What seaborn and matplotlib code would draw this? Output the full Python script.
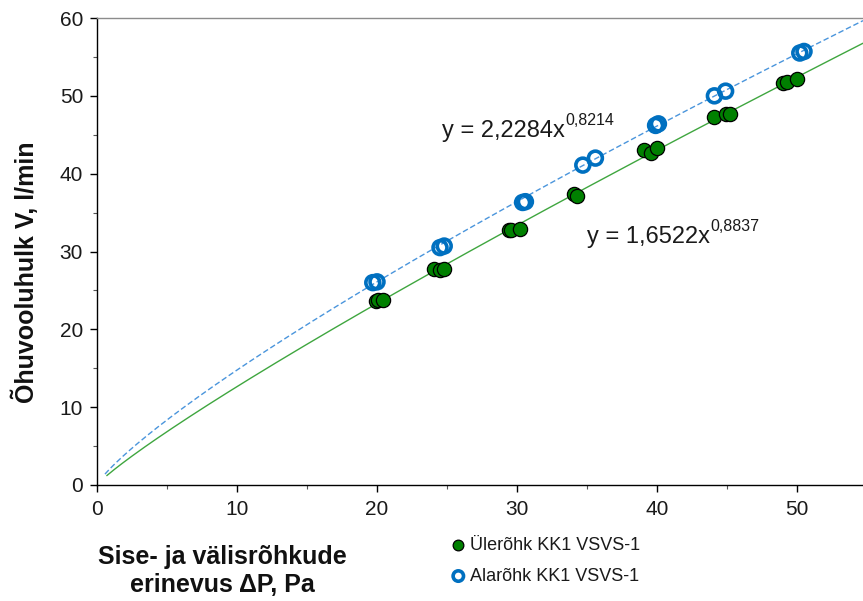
import numpy as np
import pandas as pd
import matplotlib
matplotlib.use("Agg")
import matplotlib.pyplot as plt
import seaborn as sns

# Measured air flow vs. pressure difference
over_dp = [19.9, 20.1, 20.4, 24.1, 24.5, 24.8, 29.4, 29.6, 30.2, 34.1, 34.3,
           39.1, 39.6, 40.0, 44.1, 44.9, 45.2, 49.0, 49.3, 50.0]
over_flow = [23.7, 23.8, 23.8, 27.8, 27.6, 27.8, 32.7, 32.8, 32.9, 37.4, 37.1,
             43.1, 42.6, 43.3, 47.3, 47.7, 47.7, 51.7, 51.8, 52.1]
under_dp = [19.7, 20.0, 24.5, 24.8, 30.4, 30.6, 34.7, 35.6, 39.9, 40.1,
            44.1, 44.9, 50.2, 50.5]
under_flow = [26.0, 26.1, 30.5, 30.7, 36.3, 36.4, 41.1, 42.0, 46.2, 46.4,
              50.0, 50.6, 55.5, 55.7]

over_label = "Ülerõhk KK1 VSVS-1"
under_label = "Alarõhk KK1 VSVS-1"

# Power-law trendlines y = a * x^b
over_fit = (1.6522, 0.8837)
under_fit = (2.2284, 0.8214)

x_ticks = [0, 10, 20, 30, 40, 50]
y_ticks = [0, 10, 20, 30, 40, 50, 60]

sns.set_theme(style="white")
plt.rcParams["font.family"] = ["Liberation Sans", "DejaVu Sans"]

W, H = 863, 601
fig = plt.figure(figsize=(W / 100, H / 100), dpi=100)
ax = fig.add_axes([97 / W, 1 - 485 / H, (W - 97) / W, (485 - 18) / H])

xmax = (W - 97) / 14.0
y_per_px = 60 / (485 - 18)

def trend(coef, x0):
    xs = np.linspace(x0, xmax, 300)
    return pd.DataFrame({"x": xs, "y": coef[0] * xs ** coef[1]})

g_fit = trend(over_fit, 0.7)
b_fit = trend(under_fit, 0.57)

sns.lineplot(data=g_fit, x="x", y="y", ax=ax, color="#3FA63F", lw=1.0,
             legend=False, zorder=2)
sns.lineplot(data=b_fit, x="x", y="y", ax=ax, color="#4A95DC", lw=1.0,
             legend=False, zorder=2)
ax.lines[-1].set_dashes([4, 2])

over_df = pd.DataFrame({"x": over_dp, "y": over_flow})
under_df = pd.DataFrame({"x": under_dp, "y": under_flow})

sns.scatterplot(data=under_df, x="x", y="y", ax=ax, marker="o", s=100,
                facecolor="none", edgecolor="#0070C0", linewidth=2.6,
                label=under_label, zorder=3)
sns.scatterplot(data=over_df, x="x", y="y", ax=ax, marker="o", s=105,
                color="#008000", edgecolor="black", linewidth=0.9,
                label=over_label, zorder=4)

ax.set_xlim(0, xmax)
ax.set_ylim(0, 60)
ax.set_xticks(x_ticks)
ax.set_yticks(y_ticks)
ax.set_xticks(np.arange(5, xmax, 10), minor=True)
ax.set_yticks(np.arange(5, 60, 10), minor=True)
ax.tick_params(axis="both", which="major", direction="out", length=5,
               width=1, color="black", labelsize=15, labelcolor="#1a1a1a",
               bottom=True, left=True)
ax.tick_params(axis="both", which="minor", direction="out", length=3,
               width=0.8, color="#555555", bottom=True, left=True)
ax.tick_params(axis="x", pad=6)
ax.tick_params(axis="y", pad=5)
ax.set_xlabel("")
ax.set_ylabel("")

for side in ("left", "bottom"):
    ax.spines[side].set_color("black")
    ax.spines[side].set_linewidth(1.0)
ax.spines["top"].set_color("#8c8c8c")
ax.spines["top"].set_linewidth(1.0)
ax.spines["right"].set_visible(False)

# Trendline equations
t1 = ax.text(24.65, (485 - 137) * y_per_px, "y = 2,2284x", fontsize=17,
             color="#1a1a1a", ha="left", va="baseline")
ax.annotate("0,8214", xy=(1.0, 0.62), xycoords=t1, fontsize=11.5,
            color="#1a1a1a", ha="left", va="bottom")
t2 = ax.text(35.0, (485 - 243) * y_per_px, "y = 1,6522x", fontsize=17,
             color="#1a1a1a", ha="left", va="baseline")
ax.annotate("0,8837", xy=(1.0, 0.62), xycoords=t2, fontsize=11.5,
            color="#1a1a1a", ha="left", va="bottom")

# Axis titles
fig.text(25 / W, 1 - 272 / H, "Õhuvooluhulk V, l/min", rotation=90,
         fontsize=18, fontweight="bold", ha="center", va="center",
         color="#111111")
fig.text(222 / W, 1 - 571 / H, "Sise- ja välisrõhkude\nerinevus ΔP, Pa",
         fontsize=18, fontweight="bold", ha="center", va="center",
         multialignment="center", linespacing=1.2, color="#111111")

# Legend below the plot
handles, labels = ax.get_legend_handles_labels()
ax.get_legend().remove()
order = [labels.index(over_label), labels.index(under_label)]
leg = fig.legend([handles[i] for i in order], [labels[i] for i in order],
                 loc="center left", bbox_to_anchor=(452 / W, 1 - 561 / H),
                 frameon=False, fontsize=13, handlelength=0.7,
                 handletextpad=0.3, labelspacing=0.75, borderpad=0,
                 borderaxespad=0, markerscale=0.75)
for txt in leg.get_texts():
    txt.set_color("#1a1a1a")

fig.savefig("out.png", dpi=100)
